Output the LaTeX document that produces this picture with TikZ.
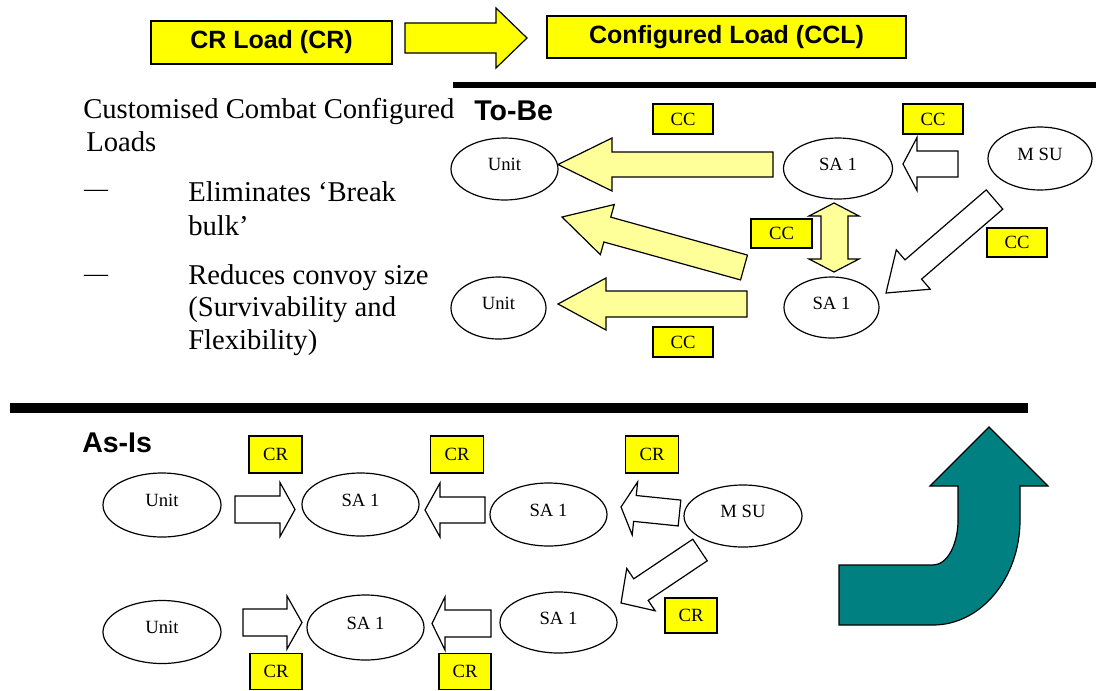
\documentclass[tikz,border=0pt]{standalone}
\usepackage{fontspec}
\setmainfont{Liberation Serif}
\setsansfont{Liberation Sans}
\usetikzlibrary{shapes.geometric}
\definecolor{boxyellow}{HTML}{FFFF00}
\definecolor{paleyellow}{HTML}{FFFF99}
\definecolor{tealarrow}{HTML}{008080}
% block arrow: #1 style, (#2,#3) tail centre, (#4,#5) tip, #6 half shaft, #7 half head, #8 head length
\newcommand\blockarrow[8]{%
  \pgfmathsetmacro\baang{-atan2((#5)-(#3),(#4)-(#2))}%
  \pgfmathsetmacro\balen{veclen((#4)-(#2),(#5)-(#3))}%
  \pgfmathsetmacro\babase{\balen-(#8)}%
  \draw[#1,shift={(#2,#3)},rotate=\baang] (0,-#6) -- (\babase,-#6) -- (\babase,-#7) -- (\balen,0) -- (\babase,#7) -- (\babase,#6) -- (0,#6) -- cycle;}
\begin{document}
\begin{tikzpicture}[x=0.75pt,y=-0.75pt,
  every node/.style={inner sep=0pt},
  sz/.style 2 args={minimum width={0.75pt*#1}, minimum height={0.75pt*#2}},
  ell/.style={draw, ellipse, line width=0.9pt, fill=white, font=\fontsize{14}{16}\selectfont, text depth=6.5pt},
  lbl/.style={draw, line width=0.9pt, fill=boxyellow, font=\fontsize{14}{16}\selectfont},
  topbox/.style={draw, line width=0.9pt, fill=boxyellow, font=\sffamily\bfseries\fontsize{18.75}{22}\selectfont},
  yarrow/.style={draw, line width=0.9pt, fill=boxyellow},
  paleyarrow/.style={draw, line width=0.9pt, fill=paleyellow},
  whitearrow/.style={draw, line width=0.9pt, fill=white},
  bodytext/.style={anchor=base west, font=\fontsize{21.5}{25}\selectfont},
  dashtext/.style={font=\fontsize{18}{20}\selectfont},
  heading/.style={anchor=base west, font=\sffamily\bfseries\fontsize{21.4}{25}\selectfont},
  bar/.style={fill=black},
]
\useasboundingbox (0,0) rectangle (1096,690);

% ---- top legend ----
\node[topbox, sz={241}{43}] (crload) at (271.5,42.5) {CR Load (CR)};
\node[topbox, sz={359}{42}] (ccl) at (726.5,37) {Configured Load (CCL)};
\blockarrow{yarrow}{405}{38}{527}{38}{15}{30}{31}

% ---- bars ----
\fill[bar] (453,82) rectangle (1096,88);
\fill[bar] (10,403) rectangle (1028,413);

% ---- left text ----
\node[bodytext] (t1) at (83,118) {Customised Combat Configured};
\node[bodytext] (t2) at (86,151) {Loads};
\node[dashtext] (d1) at (96,193) {—};
\node[bodytext] (t3) at (188,201) {Eliminates `Break};
\node[bodytext] (t4) at (188,235) {bulk'};
\node[dashtext] (d2) at (96,278) {—};
\node[bodytext] (t5) at (188,284) {Reduces convoy size};
\node[bodytext] (t6) at (188,316) {(Survivability and};
\node[bodytext] (t7) at (188,349) {Flexibility)};

\node[heading] (tobe) at (474,120) {To-Be};
\node[heading] (asis) at (82,452) {As-Is};

% ---- To-Be ----
\node[lbl, sz={60}{30}] (cc1) at (683,119) {CC};
\node[lbl, sz={60}{30}] (cc2) at (933,119) {CC};
\node[lbl, sz={61}{29}] (cc3) at (781.5,233.5) {CC};
\node[lbl, sz={60}{29}] (cc4) at (1017,242.5) {CC};
\node[lbl, sz={60}{30}] (cc5) at (683,342) {CC};

\node[ell, sz={107}{62}] (tunit1) at (504.5,169) {Unit};
\node[ell, sz={109}{61}] (tsa1) at (838,168.5) {SA 1};
\node[ell, sz={104}{63}] (tmsu) at (1040,158.5) {M SU};
\node[ell, sz={95}{61}] (tsa2) at (831.5,307.5) {SA 1};
\node[ell, sz={95}{62}] (tunit2) at (498.5,308) {Unit};

\blockarrow{paleyarrow}{773}{164.5}{558}{164.5}{12.5}{26.5}{54}
\blockarrow{paleyarrow}{744}{267.5}{562}{217}{12.9}{26}{47}
\blockarrow{paleyarrow}{747}{304}{558}{304}{13}{26}{48}
\draw[paleyarrow] (834,203) -- (859,216) -- (848,216) -- (848,259) -- (859,259) -- (834,272) -- (809,259) -- (821,259) -- (821,216) -- (809,216) -- cycle;
\blockarrow{whitearrow}{958}{164}{903}{164}{13}{26.5}{14}
\blockarrow{whitearrow}{994.5}{199.5}{886}{293}{12.7}{26}{36}

% ---- As-Is ----
\node[ell, sz={118}{64}] (aunit1) at (162,505) {Unit};
\node[ell, sz={117}{63}] (asa1) at (360.5,504.5) {SA 1};
\node[ell, sz={117}{63}] (asa2) at (548.5,514.5) {SA 1};
\node[ell, sz={118}{62}] (amsu) at (743,516) {M SU};
\node[ell, sz={118}{63}] (bunit) at (162,632) {Unit};
\node[ell, sz={117}{65}] (bsa1) at (365.5,627.5) {SA 1};
\node[ell, sz={117}{61}] (bsa2) at (558.5,622.5) {SA 1};

\node[lbl, sz={53}{37}] (cr1) at (275.5,454.5) {CR};
\node[lbl, sz={53}{37}] (cr2) at (457,454.5) {CR};
\node[lbl, sz={53}{37}] (cr3) at (652,454.5) {CR};
\node[lbl, sz={52}{35}] (cr4) at (691,615.5) {CR};
\node[lbl, sz={52}{36}] (cr5) at (276,671.5) {CR};
\node[lbl, sz={52}{36}] (cr6) at (465,671.5) {CR};

\blockarrow{whitearrow}{235}{509.5}{295}{509.5}{13.5}{27}{15}
\blockarrow{whitearrow}{485}{510}{425}{510}{13}{27}{15}
\blockarrow{whitearrow}{679.5}{513}{621}{507}{13}{26.7}{14}
\blockarrow{whitearrow}{700}{550}{621}{603}{13}{25.5}{24}
\blockarrow{whitearrow}{243}{622.5}{302}{622.5}{13.5}{26.5}{15}
\blockarrow{whitearrow}{491}{623.5}{432}{623.5}{13.5}{26.5}{13}

% ---- teal bent arrow ----
\draw[line width=0.9pt, fill=tealarrow] (989,427) -- (1048,486) -- (1020,486) -- (1020,520)
  .. controls (1020,578) and (981,625) .. (933,625) -- (839,625) -- (839,565) -- (933,565)
  .. controls (947,565) and (958,545) .. (958,520) -- (958,486) -- (930,486) -- cycle;
\end{tikzpicture}
\end{document}
